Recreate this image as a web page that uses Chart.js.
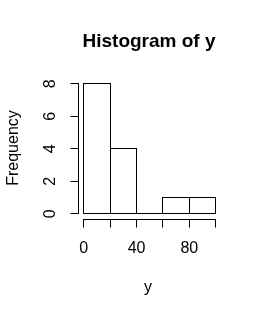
<!DOCTYPE html>
<html><head><meta charset="utf-8">
<script src="https://cdn.jsdelivr.net/npm/chart.js@4/dist/chart.umd.min.js"></script>
<style>html,body{margin:0;padding:0;background:#fff;}canvas{display:block;}</style>
</head><body>
<canvas id="c" width="261" height="317"></canvas>
<script>
const breaks = [0, 20, 40, 60, 80, 100];
const counts = [8, 4, 0, 1, 1];
const xTicks = [0, 20, 40, 60, 80, 100];
const xTickLabels = ['0', '', '40', '', '80', ''];
const yTicks = [0, 2, 4, 6, 8];
const yTickLabels = ['0', '2', '4', '6', '8'];
const titleText = 'Histogram of y';
const xLabel = 'y';
const yLabel = 'Frequency';

const mids = counts.map((c, i) => (breaks[i] + breaks[i + 1]) / 2);
const points = counts.map((c, i) => ({x: mids[i], y: c}));

const xPad = (breaks[breaks.length - 1] - breaks[0]) * 0.04;
const yPad = Math.max(...counts) * 0.04;

// snap bar rectangles (computed by the library) to whole pixels for crisp 1px outlines
const snapBars = {
  id: 'snapBars',
  beforeDatasetsDraw(chart) {
    const ys = chart.scales.y;
    const meta = chart.getDatasetMeta(0);
    const base = Math.round(ys.getPixelForValue(0)) + 1;
    meta.data.forEach((el) => {
      const L = Math.round(el.x - el.width / 2);
      const R = Math.round(el.x + el.width / 2) + 1;
      el.x = (L + R) / 2;
      el.width = R - L;
      el.y = Math.round(el.y);
      el.base = base;
    });
  },
  afterDatasetsDraw(chart) {
    // outline of the empty classes along the baseline (zero-height rectangles)
    const ctx = chart.ctx, xs = chart.scales.x, ys = chart.scales.y;
    ctx.save();
    ctx.strokeStyle = '#000'; ctx.lineWidth = 1;
    const by = Math.round(ys.getPixelForValue(0)) + 0.5;
    ctx.beginPath();
    counts.forEach((c, i) => {
      if (c === 0) {
        ctx.moveTo(Math.round(xs.getPixelForValue(breaks[i])), by);
        ctx.lineTo(Math.round(xs.getPixelForValue(breaks[i + 1])) + 1, by);
      }
    });
    ctx.stroke();
    ctx.restore();
  }
};

const rAxes = {
  id: 'rAxes',
  afterDraw(chart) {
    const ctx = chart.ctx, xs = chart.scales.x, ys = chart.scales.y;
    const a = chart.chartArea;
    ctx.save();
    ctx.strokeStyle = '#000'; ctx.lineWidth = 1; ctx.fillStyle = '#000';
    // x axis
    const ax = Math.floor(a.bottom + 0.5) + 0.5;
    ctx.beginPath();
    ctx.moveTo(Math.round(xs.getPixelForValue(xTicks[0])), ax);
    ctx.lineTo(Math.round(xs.getPixelForValue(xTicks[xTicks.length - 1])) + 1, ax);
    xTicks.forEach(t => {
      const px = Math.round(xs.getPixelForValue(t)) + 0.5;
      ctx.moveTo(px, ax); ctx.lineTo(px, ax + 8);
    });
    ctx.stroke();
    ctx.font = '16px "Liberation Sans", Arial, sans-serif';
    ctx.textAlign = 'center'; ctx.textBaseline = 'alphabetic';
    xTicks.forEach((t, i) => {
      if (xTickLabels[i]) ctx.fillText(xTickLabels[i], xs.getPixelForValue(t) + 0.5, 253);
    });
    // y axis
    const ay = Math.floor(a.left + 0.5) + 0.5;
    ctx.beginPath();
    ctx.moveTo(ay, Math.round(ys.getPixelForValue(yTicks[0])) + 1);
    ctx.lineTo(ay, Math.round(ys.getPixelForValue(yTicks[yTicks.length - 1])));
    yTicks.forEach(t => {
      const py = Math.round(ys.getPixelForValue(t)) + 0.5;
      ctx.moveTo(ay, py); ctx.lineTo(ay - 8, py);
    });
    ctx.stroke();
    yTicks.forEach((t, i) => {
      ctx.save();
      ctx.translate(55, ys.getPixelForValue(t) + 0.5);
      ctx.rotate(-Math.PI / 2);
      ctx.fillText(yTickLabels[i], 0, 0);
      ctx.restore();
    });
    // axis titles
    ctx.fillText(xLabel, 148, 292);
    ctx.save();
    ctx.translate(18, 148);
    ctx.rotate(-Math.PI / 2);
    ctx.fillText(yLabel, 0, 0);
    ctx.restore();
    // main title
    ctx.font = 'bold 19px "Liberation Sans", Arial, sans-serif';
    ctx.fillText(titleText, 149, 47);
    ctx.restore();
  }
};

new Chart(document.getElementById('c'), {
  type: 'bar',
  data: {
    datasets: [{
      data: points,
      backgroundColor: '#ffffff',
      borderColor: '#000000',
      borderSkipped: false,
      borderWidth: 1,
      barPercentage: 1,
      categoryPercentage: 1,
      inflateAmount: 0
    }]
  },
  options: {
    responsive: false,
    animation: false,
    layout: {padding: {left: 77.97, right: 40.47, top: 78.1, bottom: 98.5}},
    plugins: {legend: {display: false}, tooltip: {enabled: false}, title: {display: false}},
    scales: {
      x: {type: 'linear', display: false, min: breaks[0] - xPad, max: breaks[breaks.length - 1] + xPad, offset: false},
      y: {type: 'linear', display: false, min: -yPad, max: Math.max(...counts) + yPad}
    }
  },
  plugins: [snapBars, rAxes]
});
</script>
</body></html>
